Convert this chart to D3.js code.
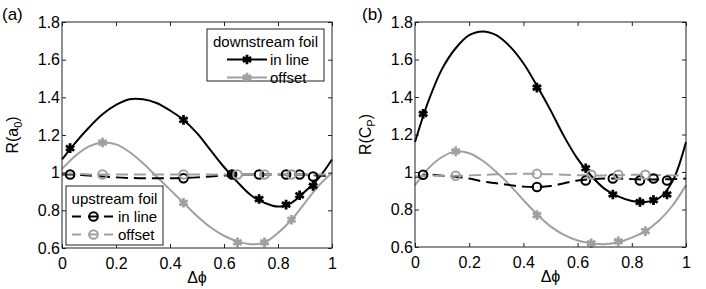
<!DOCTYPE html>
<html>
<head>
<meta charset="utf-8">
<script src="https://cdn.jsdelivr.net/npm/d3@7"></script>
<style>
body { margin:0; background:#fff; }
text { font-family: "Liberation Sans", Arial, sans-serif; }
</style>
</head>
<body>
<div id="chart"></div>
<script>
const width = 706
const height = 289

// data
const xTicks = [0, 0.2, 0.4, 0.6, 0.8, 1]
const yTicks = [0.6, 0.8, 1, 1.2, 1.4, 1.6, 1.8]
const inlineX = [0.03, 0.45, 0.63, 0.73, 0.83, 0.88, 0.93]
const offsetX = [0.15, 0.45, 0.65, 0.75, 0.85]
const fitX = [0, 0.05, 0.1, 0.15, 0.2, 0.25, 0.3, 0.35, 0.4, 0.45, 0.5, 0.55, 0.6, 0.65, 0.7, 0.75, 0.8, 0.85, 0.9, 0.95, 1]

// panel (a) R(a0)
const aDownInline = [1.13, 1.28, 0.99, 0.86, 0.83, 0.88, 0.93]
const aDownOffset = [1.16, 0.84, 0.63, 0.63, 0.75]
const aUpInline = [0.99, 0.97, 0.99, 0.99, 0.99, 0.99, 0.98]
const aUpOffset = [0.99, 0.99, 0.99, 0.99, 0.99]
const aDownInlineFit = [1.07, 1.16, 1.24, 1.31, 1.36, 1.39, 1.39, 1.37, 1.33, 1.28, 1.21, 1.12, 1.03, 0.95, 0.88, 0.84, 0.82, 0.84, 0.90, 0.97, 1.07]
const aDownOffsetFit = [1.02, 1.09, 1.14, 1.16, 1.15, 1.11, 1.05, 0.98, 0.91, 0.84, 0.77, 0.71, 0.665, 0.635, 0.62, 0.63, 0.68, 0.75, 0.84, 0.93, 1.0]
const aUpInlineFit = [0.99, 0.99, 0.985, 0.98, 0.975, 0.972, 0.97, 0.97, 0.97, 0.972, 0.975, 0.98, 0.985, 0.99, 0.99, 0.99, 0.99, 0.99, 0.99, 0.985, 0.98]
const aUpOffsetFit = [0.995, 0.995, 0.99, 0.99, 0.99, 0.99, 0.99, 0.99, 0.99, 0.99, 0.99, 0.99, 0.99, 0.99, 0.99, 0.99, 0.99, 0.99, 0.99, 0.99, 0.99]

// panel (b) R(CP)
const bDownInline = [1.31, 1.45, 1.02, 0.88, 0.84, 0.85, 0.88]
const bDownOffset = [1.11, 0.77, 0.62, 0.63, 0.685]
const bUpInline = [0.985, 0.92, 0.955, 0.965, 0.955, 0.965, 0.955]
const bUpOffset = [0.98, 0.99, 0.985, 0.985, 0.985]
const bDownInlineFit = [1.16, 1.38, 1.55, 1.66, 1.73, 1.75, 1.73, 1.67, 1.58, 1.46, 1.33, 1.19, 1.07, 0.98, 0.91, 0.87, 0.845, 0.84, 0.86, 0.95, 1.16]
const bDownOffsetFit = [0.93, 1.02, 1.08, 1.11, 1.10, 1.06, 1.00, 0.93, 0.85, 0.775, 0.71, 0.665, 0.635, 0.62, 0.615, 0.625, 0.65, 0.685, 0.74, 0.82, 0.93]
const bUpInlineFit = [0.97, 0.985, 0.98, 0.975, 0.965, 0.95, 0.94, 0.93, 0.922, 0.92, 0.925, 0.94, 0.955, 0.962, 0.965, 0.965, 0.962, 0.96, 0.96, 0.962, 0.965]
const bUpOffsetFit = [0.975, 0.98, 0.98, 0.98, 0.982, 0.985, 0.988, 0.99, 0.99, 0.99, 0.988, 0.985, 0.983, 0.982, 0.982, 0.983, 0.985, 0.985, 0.984, 0.982, 0.98]

const black = "#000"
const gray = "#a0a0a0"
const dash = "12,6"
const fontSize = 15
const tickFont = 16

const svg = d3.select("div#chart").append("svg").attr("width", width).attr("height", height)

const starType = d3.symbolAsterisk || d3.symbolStar
const star = d3.symbol().type(starType).size(65)

function panel(opts) {
    const g = svg.append("g").attr("transform", `translate(${opts.left}, ${opts.top})`)
    const x = d3.scaleLinear().domain([0, 1]).range([0, opts.w])
    const y = d3.scaleLinear().domain([0.6, 1.8]).range([opts.h, 0])
    const line = d3.line().x(d => x(d[0])).y(d => y(d[1])).curve(d3.curveCatmullRom)

    const series = [
        {fit: opts.downInlineFit, xs: inlineX, ys: opts.downInline, color: black, dashed: false},
        {fit: opts.downOffsetFit, xs: offsetX, ys: opts.downOffset, color: gray, dashed: false},
        {fit: opts.upInlineFit, xs: inlineX, ys: opts.upInline, color: black, dashed: true},
        {fit: opts.upOffsetFit, xs: offsetX, ys: opts.upOffset, color: gray, dashed: true}
    ]
    const plot = g.append("g")
    series.forEach(s => {
        plot.append("path")
            .datum(fitX.map((v, i) => [v, s.fit[i]]))
            .attr("d", line)
            .attr("fill", "none")
            .attr("stroke", s.color)
            .attr("stroke-width", 2)
            .attr("stroke-dasharray", s.dashed ? dash : null)
    })
    series.forEach(s => {
        const pts = s.xs.map((v, i) => [v, s.ys[i]])
        if (s.dashed) {
            plot.selectAll(null).data(pts).enter().append("circle")
                .attr("cx", d => x(d[0])).attr("cy", d => y(d[1])).attr("r", 4.3)
                .attr("fill", "none").attr("stroke", s.color).attr("stroke-width", 2)
        } else {
            plot.selectAll(null).data(pts).enter().append("path")
                .attr("transform", d => `translate(${x(d[0])}, ${y(d[1])})`)
                .attr("d", star)
                .attr("fill", s.color).attr("stroke", s.color).attr("stroke-width", 2.8)
        }
    })

    // axes, MATLAB style: box with inward ticks
    const axisStyle = a => a.call(sel => {
        sel.select(".domain").remove()
        sel.selectAll("line").attr("stroke", "#222")
        sel.selectAll("text").attr("font-size", tickFont).attr("fill", "#000")
            .attr("font-family", '"Liberation Sans", Arial, sans-serif')
    })
    g.append("g").attr("transform", `translate(0, ${opts.h})`)
        .call(d3.axisBottom(x).tickValues(xTicks).tickFormat(d3.format("")).tickSizeInner(-4).tickPadding(10))
        .call(axisStyle)
    g.append("g")
        .call(d3.axisTop(x).tickValues(xTicks).tickFormat("").tickSizeInner(-4))
        .call(axisStyle)
    g.append("g")
        .call(d3.axisLeft(y).tickValues(yTicks).tickFormat(d3.format("")).tickSizeInner(-4).tickPadding(2))
        .call(axisStyle)
    g.append("g").attr("transform", `translate(${opts.w}, 0)`)
        .call(d3.axisRight(y).tickValues(yTicks).tickFormat("").tickSizeInner(-4))
        .call(axisStyle)
    g.append("rect").attr("width", opts.w).attr("height", opts.h)
        .attr("fill", "none").attr("stroke", "#222").attr("stroke-width", 1)

    // labels
    g.append("text").attr("x", opts.w / 2).attr("y", opts.h + 35)
        .attr("text-anchor", "middle").attr("font-size", tickFont).text("Δϕ")
    const yl = g.append("text")
        .attr("transform", `translate(${-opts.ylabelGap}, ${opts.h / 2}) rotate(-90)`)
        .attr("text-anchor", "middle").attr("font-size", tickFont)
    yl.append("tspan").text("R(" + opts.ylabelBase)
    yl.append("tspan").attr("font-size", 11).attr("dy", 4).text(opts.ylabelSub)
    yl.append("tspan").attr("dy", -4).text(")")
    svg.append("text").attr("x", opts.tagX).attr("y", 20).attr("font-size", 17).text(opts.tag)
    return {g, x, y}
}

panel({
    left: 62, top: 22, w: 270, h: 226, tag: "(a)", tagX: 2, ylabelGap: 44,
    ylabelBase: "a", ylabelSub: "0",
    downInline: aDownInline, downOffset: aDownOffset, upInline: aUpInline, upOffset: aUpOffset,
    downInlineFit: aDownInlineFit, downOffsetFit: aDownOffsetFit, upInlineFit: aUpInlineFit, upOffsetFit: aUpOffsetFit
})
panel({
    left: 415, top: 22, w: 271, h: 225, tag: "(b)", tagX: 362, ylabelGap: 44,
    ylabelBase: "C", ylabelSub: "P",
    downInline: bDownInline, downOffset: bDownOffset, upInline: bUpInline, upOffset: bUpOffset,
    downInlineFit: bDownInlineFit, downOffsetFit: bDownOffsetFit, upInlineFit: bUpInlineFit, upOffsetFit: bUpOffsetFit
})

// legends (panel a only), in page coordinates
function legend(box, title, entries) {
    const lg = svg.append("g")
    lg.append("rect").attr("x", box.x).attr("y", box.y).attr("width", box.w).attr("height", box.h)
        .attr("fill", "#fff").attr("stroke", "#222").attr("stroke-width", 1)
    lg.append("text").attr("x", box.x + box.w / 2).attr("y", box.y + 18)
        .attr("text-anchor", "middle").attr("font-size", fontSize).text(title)
    entries.forEach((e, i) => {
        const yy = box.y + 35.5 + i * 18
        const x0 = box.x + box.lineX, x1 = x0 + box.lineW, xm = (x0 + x1) / 2
        lg.append("line").attr("x1", x0).attr("x2", x1).attr("y1", yy - 5).attr("y2", yy - 5)
            .attr("stroke", e.color).attr("stroke-width", 2).attr("stroke-dasharray", e.dashed ? "9,7" : null)
        if (e.dashed) {
            lg.append("circle").attr("cx", xm).attr("cy", yy - 5).attr("r", 4.3)
                .attr("fill", "none").attr("stroke", e.color).attr("stroke-width", 2)
        } else {
            lg.append("path").attr("transform", `translate(${xm}, ${yy - 5})`).attr("d", star)
                .attr("fill", e.color).attr("stroke", e.color).attr("stroke-width", 2.8)
        }
        lg.append("text").attr("x", x1 + 3).attr("y", yy).attr("font-size", fontSize).text(e.label)
    })
}
legend({x: 207, y: 29, w: 117, h: 52, lineX: 20, lineW: 40}, "downstream foil",
    [{label: "in line", color: black, dashed: false}, {label: "offset", color: gray, dashed: false}])
legend({x: 66, y: 186, w: 97, h: 59, lineX: 6, lineW: 43}, "upstream foil",
    [{label: "in line", color: black, dashed: true}, {label: "offset", color: gray, dashed: true}])
</script>
</body>
</html>
